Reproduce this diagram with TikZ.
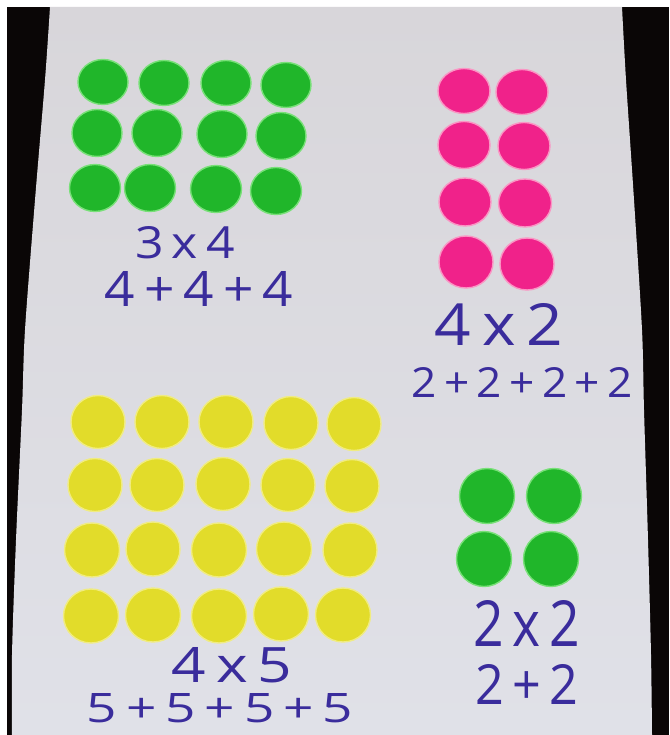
\documentclass[tikz,border=0pt]{standalone}
\usepackage{fontspec}
\setmainfont{Open Sans}
\usepackage{graphicx}
\definecolor{bgblack}{RGB}{10,6,6}
\definecolor{papertop}{RGB}{216,214,218}
\definecolor{paperbot}{RGB}{224,225,232}
\definecolor{gfill}{RGB}{32,182,42}
\definecolor{grim}{RGB}{120,224,120}
\definecolor{pfill}{RGB}{240,34,138}
\definecolor{prim}{RGB}{250,150,196}
\definecolor{yfill}{RGB}{226,220,42}
\definecolor{yrim}{RGB}{240,236,130}
\definecolor{ink}{RGB}{58,44,156}
\newcommand\sticker[5]{\filldraw[#5] (#1,#2) ellipse[x radius=#3, y radius=#4];}
\newcommand\fitt[3]{\resizebox{#1pt}{#2pt}{#3}}
\begin{document}
\begin{tikzpicture}[x=1pt,y=-1pt,
  sgreen/.style={fill=gfill,draw=grim,line width=1.4pt},
  spink/.style={fill=pfill,draw=prim,line width=1.4pt},
  syellow/.style={fill=yfill,draw=yrim,line width=1.4pt},
  hand/.style={inner sep=0pt,text=ink,anchor=center}]
\useasboundingbox (0,0) rectangle (669,735);
\fill[white] (0,0) rectangle (669,735);
\fill[bgblack] (7,7) rectangle (669,735);
\shade[top color=papertop,bottom color=paperbot]
  (50,7) -- (622,7)
  -- plot[smooth] coordinates {(622,7) (626,80) (634,200) (642,330) (644,410) (648,540) (651,655) (652,735)}
  -- (12,735)
  -- plot[smooth] coordinates {(12,735) (12,655) (16,540) (22,410) (25,330) (35,200) (45,80) (50,7)}
  -- cycle;
% green 3x4
\sticker{103}{82}{25}{22.5}{sgreen}
\sticker{164}{83}{25}{22.5}{sgreen}
\sticker{226}{83}{25}{22.5}{sgreen}
\sticker{286}{85}{25}{22.5}{sgreen}
\sticker{97}{133}{25}{23.5}{sgreen}
\sticker{157}{133}{25}{23.5}{sgreen}
\sticker{222}{134}{25}{23.5}{sgreen}
\sticker{281}{136}{25}{23.5}{sgreen}
\sticker{95}{188}{25.5}{23.5}{sgreen}
\sticker{150}{188}{25.5}{23.5}{sgreen}
\sticker{216}{189}{25.5}{23.5}{sgreen}
\sticker{276}{191}{25.5}{23.5}{sgreen}
% pink 4x2
\sticker{464}{91}{26}{22.5}{spink}
\sticker{522}{92}{26}{22.5}{spink}
\sticker{464}{145}{26}{23.5}{spink}
\sticker{524}{146}{26}{23.5}{spink}
\sticker{465}{202}{26}{24}{spink}
\sticker{525}{203}{26.5}{24}{spink}
\sticker{466}{262}{27}{26}{spink}
\sticker{527}{264}{27}{26}{spink}
% yellow 4x5
\sticker{98}{422}{27}{26.5}{syellow}
\sticker{162}{422}{27}{26.5}{syellow}
\sticker{226}{422}{27}{26.5}{syellow}
\sticker{291}{423}{27}{26.5}{syellow}
\sticker{354}{424}{27}{26.5}{syellow}
\sticker{95}{485}{27}{26.5}{syellow}
\sticker{157}{485}{27}{26.5}{syellow}
\sticker{223}{484}{27}{26.5}{syellow}
\sticker{288}{485}{27}{26.5}{syellow}
\sticker{352}{486}{27}{26.5}{syellow}
\sticker{92}{550}{27.5}{27}{syellow}
\sticker{153}{549}{27}{27}{syellow}
\sticker{219}{550}{27.5}{27}{syellow}
\sticker{284}{549}{27.5}{27}{syellow}
\sticker{350}{550}{27}{27}{syellow}
\sticker{91}{616}{27.5}{27}{syellow}
\sticker{153}{615}{27.5}{27}{syellow}
\sticker{219}{616}{27.5}{27}{syellow}
\sticker{281}{614}{27.5}{27}{syellow}
\sticker{343}{615}{27.5}{27}{syellow}
% green 2x2
\sticker{487}{496}{27.5}{27.5}{sgreen}
\sticker{554}{496}{27.5}{27.5}{sgreen}
\sticker{484}{559}{27.5}{27.5}{sgreen}
\sticker{551}{559}{27.5}{27.5}{sgreen}
% labels
\node[hand] (m34) at (185,243) {\fitt{100}{32}{3\,x\,4}};
\node[hand] (a444) at (199,289) {\fitt{188}{35}{4\,+\,4\,+\,4}};
\node[hand] (m42) at (499,324) {\fitt{128}{42}{4\,x\,2}};
\node[hand] (a2222) at (522,382) {\fitt{221}{30}{2\,+\,2\,+\,2\,+\,2}};
\node[hand] (m45) at (232,665) {\fitt{121}{35}{4\,x\,5}};
\node[hand] (a5555) at (220,708) {\fitt{266}{29}{5\,+\,5\,+\,5\,+\,5}};
\node[hand] (m22) at (527,623) {\fitt{107}{46}{2\,x\,2}};
\node[hand] (a22) at (527,684) {\fitt{103}{40}{2\,+\,2}};
\end{tikzpicture}
\end{document}
